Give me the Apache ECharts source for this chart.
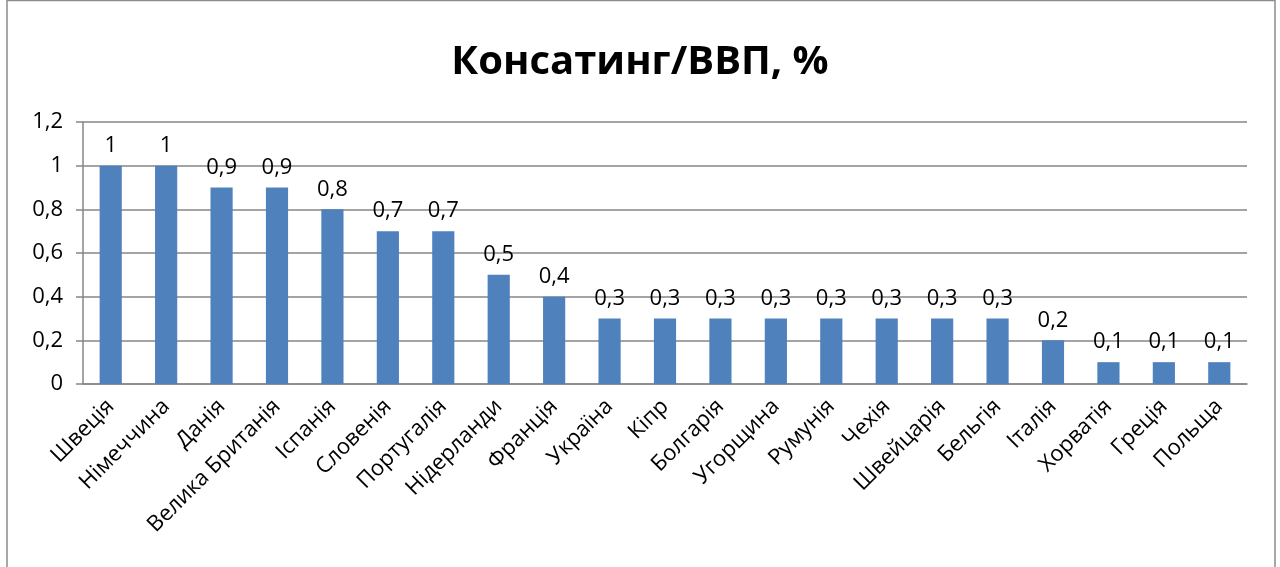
<!DOCTYPE html>
<html>
<head>
<meta charset="utf-8">
<script src="https://cdn.jsdelivr.net/npm/echarts@6/dist/echarts.min.js"></script>
<style>
  html, body { margin: 0; padding: 0; background: #fff; }
  #chart { width: 1280px; height: 567px; }
</style>
</head>
<body>
<div id="chart"></div>
<script>
// країни та значення консалтингу до ВВП, %
const countries = ['Швеція', 'Німеччина', 'Данія', 'Велика Британія', 'Іспанія', 'Словенія',
    'Португалія', 'Нідерланди', 'Франція', 'Україна', 'Кіпр', 'Болгарія', 'Угорщина',
    'Румунія', 'Чехія', 'Швейцарія', 'Бельгія', 'Італія', 'Хорватія', 'Греція', 'Польща'];
const values = [1, 1, 0.9, 0.9, 0.8, 0.7, 0.7, 0.5, 0.4, 0.3, 0.3, 0.3, 0.3, 0.3, 0.3, 0.3, 0.3,
    0.2, 0.1, 0.1, 0.1];

const fmt = function (v) {
    return String(+(+v).toFixed(1)).replace('.', ',');
};

const font = "'Open Sans', 'Noto Sans', sans-serif";

let option = {
    animation: false,
    textStyle: { fontFamily: font },
    title: {
        text: 'Консатинг/ВВП, %',
        left: 'center',
        top: 38,
        textStyle: { fontSize: 40, fontWeight: 'bold', color: '#000', fontFamily: font }
    },
    graphic: [{
        type: 'rect',
        shape: { x: 7, y: 0.5, width: 1268, height: 600 },
        style: { fill: 'none', stroke: '#8c8c8c', lineWidth: 1.5 },
        silent: true
    }],
    grid: { left: 83, right: 33, top: 122, bottom: 183 },
    xAxis: {
        type: 'category',
        data: countries,
        axisLine: { lineStyle: { color: '#868686', width: 1.5 } },
        axisTick: { length: 6, lineStyle: { color: '#868686', width: 1.5 } },
        axisLabel: { rotate: 45, fontSize: 22, color: '#000', margin: 19, interval: 0, fontFamily: font }
    },
    yAxis: {
        type: 'value',
        min: 0,
        max: 1.2,
        interval: 0.2,
        axisLine: { show: true, lineStyle: { color: '#868686', width: 1.5 } },
        axisTick: { show: true, length: 7, lineStyle: { color: '#868686', width: 1.5 } },
        splitLine: { lineStyle: { color: '#868686', width: 1.5 } },
        axisLabel: { fontSize: 22, color: '#000', margin: 20, formatter: fmt, fontFamily: font }
    },
    series: [{
        type: 'bar',
        data: values,
        barWidth: '40%',
        itemStyle: { color: '#4f81bd' },
        label: {
            show: true,
            position: 'top',
            distance: 9,
            fontSize: 22,
            color: '#000',
            fontFamily: font,
            formatter: function (p) { return fmt(p.value); }
        }
    }]
};

let myChart = echarts.init(document.getElementById('chart'));
myChart.setOption(option, true);
</script>
</body>
</html>
